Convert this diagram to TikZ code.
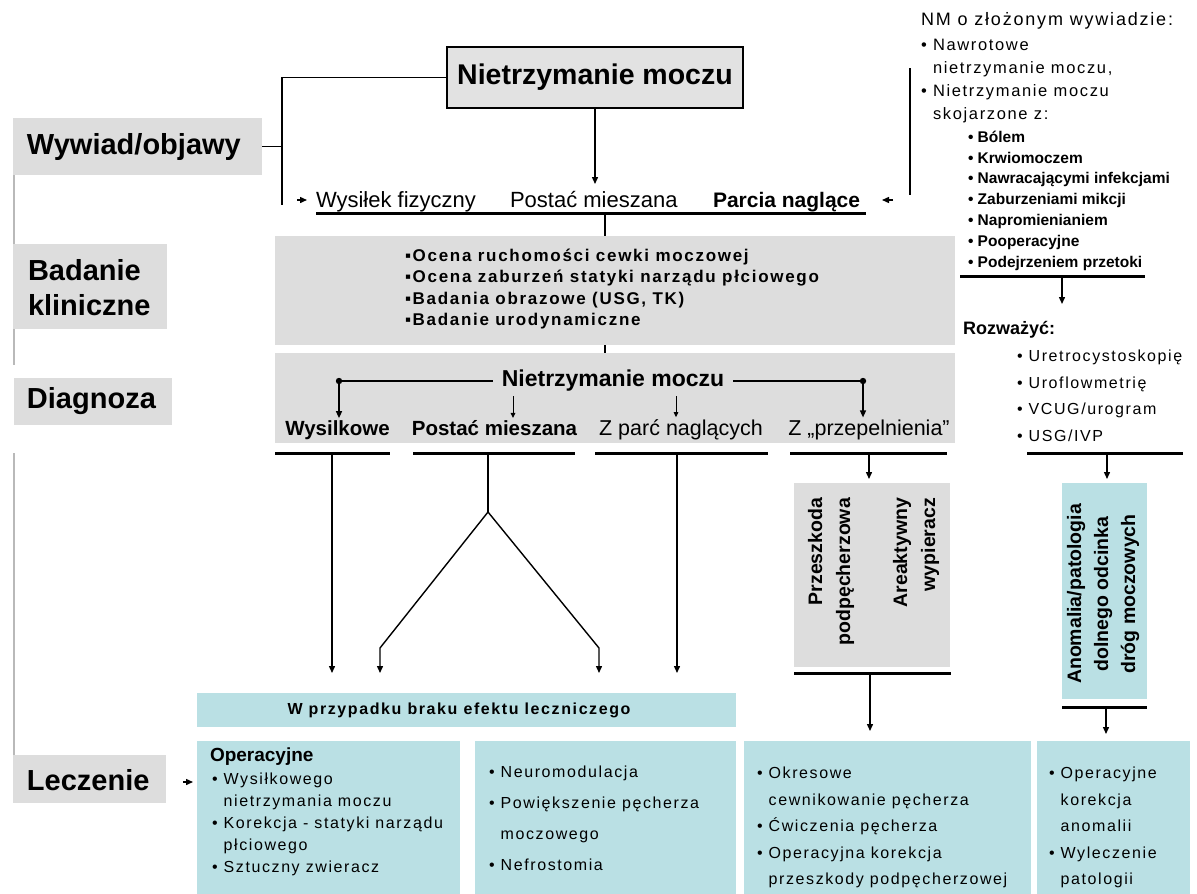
\documentclass[tikz,border=0pt]{standalone}
\usepackage{fontspec}
\setmainfont{Liberation Sans}
\newfontfamily\spc[LetterSpace=10]{Liberation Sans}
\usetikzlibrary{arrows.meta,calc}
\definecolor{lgray}{RGB}{221,221,221}
\definecolor{tgray}{RGB}{226,226,226}
\definecolor{lcyan}{RGB}{186,224,228}
\definecolor{rulegray}{RGB}{185,185,185}
\newcommand\fsz[2]{\fontsize{#1}{#2}\selectfont}
\tikzset{
  every node/.style={inner sep=0pt, outer sep=0pt},
  graybox/.style={fill=lgray, draw=none},
  cyanbox/.style={fill=lcyan, draw=none},
  conn/.style={line width=1.4pt, draw=black},
  thickbar/.style={line width=3pt, draw=black},
  arr/.style={-{Triangle[length=7pt,width=6pt]}},
  lbltext/.style={font=\bfseries\fsz{29}{35}, anchor=west},
  rottext/.style={rotate=90, font=\bfseries\fsz{19.5}{28}},
}
\begin{document}
\begin{tikzpicture}[x=1pt,y=-1pt]
\useasboundingbox (0,0) rectangle (1197,894);
\fill[white] (0,0) rectangle (1197,894);

% ---------- left rule and labels
\draw[rulegray, line width=2pt] (13.5,119) -- (13.5,365);
\draw[rulegray, line width=2pt] (13.5,453) -- (13.5,800);

\node[graybox, minimum width=249pt, minimum height=57pt] (wyw) at (137.5,146.5) {};
\node[lbltext] (wywT) at (27,147) {Wywiad/objawy};
\node[graybox, minimum width=154pt, minimum height=85pt] (bad) at (90,286.5) {};
\node[lbltext] (badT1) at (28,270) {Badanie};
\node[lbltext] (badT2) at (28,305) {kliniczne};
\node[graybox, minimum width=158pt, minimum height=47pt] (dia) at (93,401.5) {};
\node[lbltext] (diaT) at (27,401) {Diagnoza};
\node[graybox, minimum width=153pt, minimum height=48pt] (lec) at (89.5,779) {};
\node[lbltext] (lecT) at (27,780) {Leczenie};

% ---------- title
\node[fill=tgray, draw=black, line width=1.4pt, minimum width=296pt, minimum height=61pt,
      font=\bfseries\fsz{28.5}{34}] (title) at (595,77.5) {Nietrzymanie moczu};

\coordinate (jtop) at (282,77.5);
\coordinate (jbot) at (282,205);
\draw[conn] (title.west) -- (jtop) -- (jbot);
\draw[conn] (wyw.east) -- (wyw.east -| jtop);
\coordinate (la1) at (297,200);
\coordinate (la2) at (307,200);
\draw[conn, arr] (la1) -- (la2);

\coordinate (tarr) at (595,184);
\draw[conn, arr] (title.south) -- (tarr);

% ---------- symptom row
\node[anchor=base west, font=\fsz{22}{26}] (wys) at (316,207) {Wysiłek fizyczny};
\node[anchor=base west, font=\fsz{22}{26}] (pos) at (510,207) {Postać mieszana};
\node[anchor=base west, font=\bfseries\fsz{21}{26}] (par) at (713,207) {Parcia naglące};
\coordinate (ul1) at (316,213);
\coordinate (ul2) at (866,213);
\coordinate (ulm) at (605,213);
\draw[thickbar] (ul1) -- (ul2);
\coordinate (ra1) at (893,200);
\coordinate (ra2) at (882,200);
\draw[conn, arr] (ra1) -- (ra2);

% ---------- right: NM o zlozonym wywiadzie
\node[anchor=west, font=\spc\fsz{18}{23}] (nmh) at (921,21) {NM o złożonym wywiadzie:};
\node[anchor=north west, align=left, font=\spc\fsz{16.5}{23}] (nml) at (921,39)
  {• Nawrotowe\\\phantom{• }nietrzymanie moczu,\\• Nietrzymanie moczu\\\phantom{• }skojarzone z:};
\node[anchor=north west, align=left, font=\bfseries\fsz{15.5}{20.8}] (nms) at (968,131)
  {• Bólem\\• Krwiomoczem\\• Nawracającymi infekcjami\\• Zaburzeniami mikcji\\• Napromienianiem\\• Pooperacyjne\\• Podejrzeniem przetoki};
\coordinate (rb1) at (910,68);
\coordinate (rb2) at (910,195);
\draw[conn] (rb1) -- (rb2);
\coordinate (nb1) at (960,276);
\coordinate (nb2) at (1145,276);
\coordinate (nbm) at (1062,276);
\coordinate (nbe) at (1062,304);
\draw[thickbar] (nb1) -- (nb2);
\draw[conn, arr] (nbm) -- (nbe);

\node[anchor=west, font=\bfseries\fsz{18}{22}] (roz) at (963,330) {Rozważyć:};
\node[anchor=north west, align=left, font=\spc\fsz{16}{26.7}] (rozl) at (1017,350)
  {• Uretrocystoskopię\\• Uroflowmetrię\\• VCUG/urogram\\• USG/IVP};

% ---------- Badanie kliniczne box
\node[graybox, minimum width=680pt, minimum height=109pt] (badb) at (615,290.5) {};
\node[anchor=north west, align=left, font=\spc\bfseries\fsz{17}{21.3}] (badl) at (405,249)
  {▪Ocena ruchomości cewki moczowej\\▪Ocena zaburzeń statyki narządu płciowego\\▪Badania obrazowe (USG, TK)\\▪Badanie urodynamiczne};
\draw[conn] (ulm) -- (ulm |- badb.north);

% ---------- Diagnoza box
\node[graybox, minimum width=680pt, minimum height=90pt] (diab) at (615,398) {};
\draw[conn] (badb.south -| ulm) -- (diab.north -| ulm);
\node[font=\bfseries\fsz{23}{27}] (dnm) at (613,381) {Nietrzymanie moczu};
\node[anchor=base, font=\bfseries\fsz{20.5}{24}] (lw) at (337.5,435) {Wysilkowe};
\node[anchor=base, font=\bfseries\fsz{20.5}{24}] (lp) at (494.5,435) {Postać mieszana};
\node[anchor=base, font=\fsz{21.5}{25}] (lz1) at (681,435) {Z parć naglących};
\node[anchor=base, font=\fsz{21.5}{25}] (lz2) at (869,435) {Z „przepelnienia”};
\coordinate (dl) at (339,381);
\coordinate (dr) at (863,381);
\draw[conn] ([xshift=-9pt]dnm.west) -- (dl);
\draw[conn] ([xshift=9pt]dnm.east) -- (dr);
\fill (dl) circle (3.2pt);
\fill (dr) circle (3.2pt);
\draw[conn, arr] (dl) -- ([yshift=2pt]dl |- lw.north);
\draw[conn, arr] (dr) -- ([yshift=2pt]dr |- lz2.north);
\coordinate (sa1) at (513,396);
\coordinate (sa2) at (676,396);
\draw[line width=1pt, -{Triangle[length=5pt,width=4.5pt]}] (sa1) -- ([yshift=2pt]sa1 |- lp.north);
\draw[line width=1pt, -{Triangle[length=5pt,width=4.5pt]}] (sa2) -- ([yshift=2pt]sa2 |- lz1.north);

% ---------- bars under diagnoses
\draw[thickbar] (275,453) -- (390,453);
\draw[thickbar] (413,453) -- (575,453);
\draw[thickbar] (595,453) -- (768,453);
\draw[thickbar] (790,453) -- (947,453);
\draw[thickbar] (1027,453) -- (1183,453);

% ---------- W przypadku box
\node[cyanbox, minimum width=539pt, minimum height=34pt] (wpb) at (466.5,710) {};
\node[font=\spc\bfseries\fsz{16}{20}] (wpT) at (459,710) {W przypadku braku efektu leczniczego};

\coordinate (d1) at (332,453);
\coordinate (d2) at (488,453);
\coordinate (d2m) at (488,512);
\coordinate (d2l) at (380,648);
\coordinate (d2r) at (599,648);
\coordinate (d3) at (677,453);
\coordinate (tipy) at (0,673);
\draw[conn, arr] (d1) -- (d1 |- tipy);
\draw[conn] (d2) -- (d2m);
\draw[conn, arr] (d2m) -- (d2l) -- (d2l |- tipy);
\draw[conn, arr] (d2m) -- (d2r) -- (d2r |- tipy);
\draw[conn, arr] (d3) -- (d3 |- tipy);

% ---------- vertical boxes
\node[graybox, minimum width=156pt, minimum height=184pt] (ppb) at (872,575) {};
\node[rottext, anchor=east, align=right] (ppT1) at (831,498) {Przeszkoda\\podpęcherzowa};
\node[rottext, anchor=east, align=right] (ppT2) at (916,498) {Areaktywny\\wypieracz};
\coordinate (g1) at (869,453);
\draw[conn, arr] (g1) -- ([yshift=4pt]g1 |- ppb.north);
\draw[thickbar] (794,673) -- (951,673);
\coordinate (g2) at (870,673);

\node[cyanbox, minimum width=85pt, minimum height=216pt] (anb) at (1104.5,591) {};
\node[rottext, align=center, font=\bfseries\fsz{19.5}{27}] (anT) at (1103,594) {Anomalia/patologia\\dolnego odcinka\\dróg moczowych};
\coordinate (c1) at (1107,453);
\draw[conn, arr] (c1) -- ([yshift=4pt]c1 |- anb.north);
\draw[thickbar] (1062,707) -- (1147,707);
\coordinate (c2) at (1106,707);

% ---------- bottom boxes
\node[cyanbox, minimum width=263pt, minimum height=153pt] (bA) at (328.5,817.5) {};
\node[cyanbox, minimum width=261pt, minimum height=153pt] (bB) at (605.5,817.5) {};
\node[cyanbox, minimum width=287pt, minimum height=153pt] (bC) at (887.5,817.5) {};
\node[cyanbox, minimum width=153pt, minimum height=153pt] (bD) at (1113.5,817.5) {};
\draw[conn, arr] (g2) -- ([yshift=10pt]g2 |- bC.north);
\draw[conn, arr] (c2) -- ([yshift=7pt]c2 |- bD.north);

\coordinate (lea1) at (183,782);
\coordinate (lea2) at (193,782);
\draw[conn, arr] (lea1) -- (lea2);

\node[anchor=west, font=\bfseries\fsz{19}{22}] (aT1) at (210,757) {Operacyjne};
\node[anchor=north west, align=left, font=\spc\fsz{16}{22}] (aT2) at (212,773)
  {• Wysiłkowego\\\phantom{• }nietrzymania moczu\\• Korekcja - statyki narządu\\\phantom{• }płciowego\\• Sztuczny zwieracz};
\node[anchor=north west, align=left, font=\spc\fsz{16}{31}] (bT) at (489,766)
  {• Neuromodulacja\\• Powiększenie pęcherza\\\phantom{• }moczowego\\• Nefrostomia};
\node[anchor=north west, align=left, font=\spc\fsz{16}{26.5}] (cT) at (757,767)
  {• Okresowe\\\phantom{• }cewnikowanie pęcherza\\• Ćwiczenia pęcherza\\• Operacyjna korekcja\\\phantom{• }przeszkody podpęcherzowej};
\node[anchor=north west, align=left, font=\spc\fsz{16}{26.5}] (dT) at (1049,767)
  {• Operacyjne\\\phantom{• }korekcja\\\phantom{• }anomalii\\• Wyleczenie\\\phantom{• }patologii};
\end{tikzpicture}
\end{document}
